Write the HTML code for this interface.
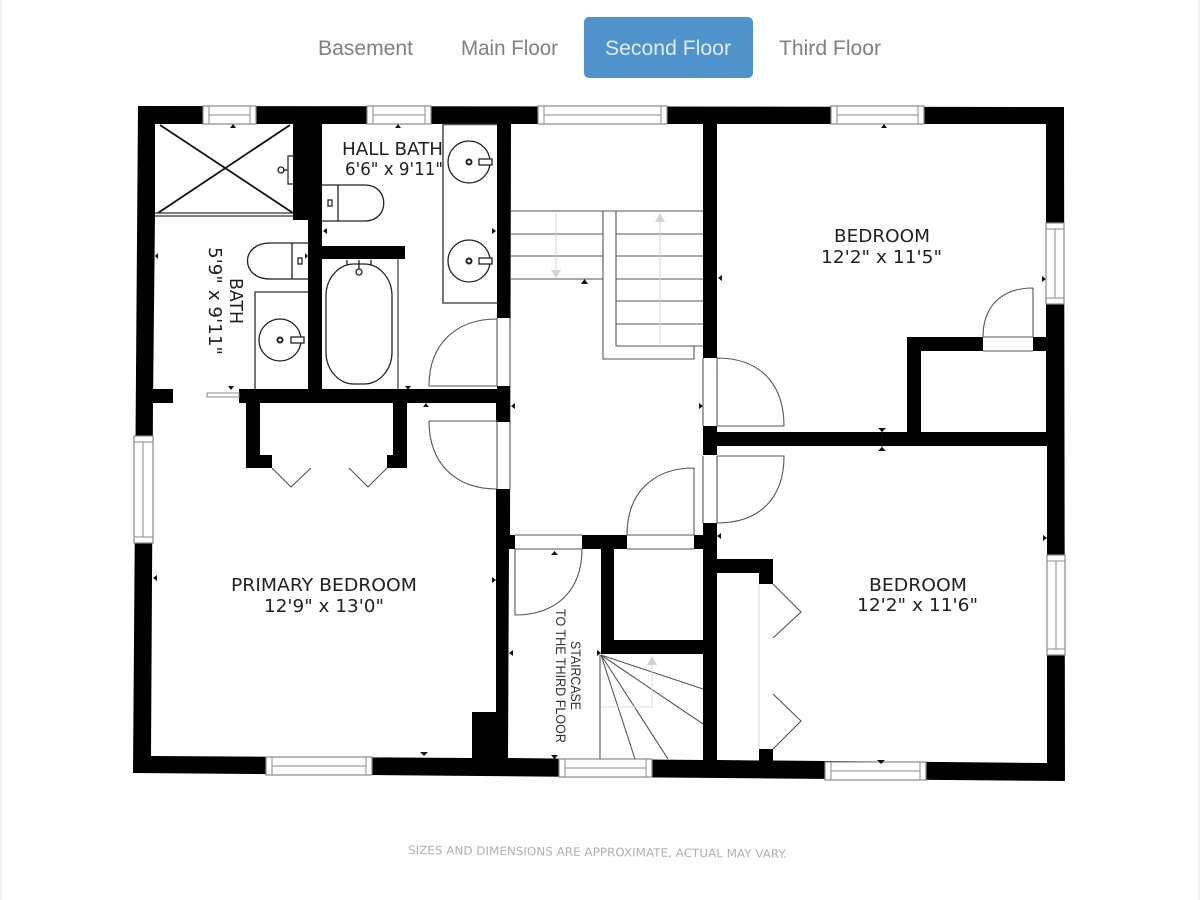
<!DOCTYPE html>
<html><head><meta charset="utf-8"><style>
html,body{margin:0;padding:0;background:#fff;width:1200px;height:900px;overflow:hidden}
svg{display:block;filter:blur(.35px)}
</style></head><body>
<svg width="1200" height="900" viewBox="0 0 1200 900" xmlns="http://www.w3.org/2000/svg">
<rect width="1200" height="900" fill="#fff"/>
<rect x="0" y="0" width="2" height="900" fill="#f4f4f4"/>
<rect x="1198" y="0" width="2" height="900" fill="#f4f4f4"/>
<!-- nav -->
<rect x="584" y="17" width="169" height="61" rx="5" fill="#4f92cc"/>
<g font-family="'Liberation Sans',sans-serif" font-size="21" fill="#808080">
<text x="318" y="55" textLength="95" lengthAdjust="spacingAndGlyphs">Basement</text>
<text x="461" y="55" textLength="97" lengthAdjust="spacingAndGlyphs">Main Floor</text>
<text x="605" y="55" textLength="126" lengthAdjust="spacingAndGlyphs" fill="#dcedfb">Second Floor</text>
<text x="779" y="55" textLength="102" lengthAdjust="spacingAndGlyphs">Third Floor</text>
</g>
<!-- walls -->
<polygon points="138,106 1064,107 1065,781 133,773" fill="#000"/>
<!-- room interiors -->
<g fill="#fff">
<polygon points="155,124 293,124 293,214 155,214"/>
<polygon points="155,214 293,214 293,220 308,220 308,389 173,389 173,403 153,403"/>
<polygon points="322,124 497,124 497,389 322,389 322,259 405,259 405,246 322,246"/>
<polygon points="511,124 703,124 703,535 510,535"/>
<polygon points="717,124 1046,124 1046,337 921,337 907,337 907,432 717,432"/>
<rect x="921" y="351" width="125" height="81"/>
<polygon points="717,446 1047,446 1047,763 773,760.5 773,749 759,749 759,760.5 717,760"/>
<polygon points="153,403 246,403 246,468 272,468 272,455 260,455 260,403 393,403 393,455 387,455 387,468 407,468 407,403 496,403 496,712 472,712 472,758 151,756"/>
<polygon points="509,549 601,549 601,759 508,758"/>
<polygon points="601,654 703,654 703,760 601,759"/>
<rect x="614" y="549" width="89" height="91"/>
<polygon points="717,573 759,573 759,760 717,760"/>
<polygon points="773,584 773,749 759,749 759,584"/>
</g>
<!-- walls restored over interiors -->
<g fill="#000">
<rect x="153" y="389" width="20" height="14"/>
<rect x="717" y="559" width="56" height="14"/>
<rect x="759" y="559" width="14" height="25"/>
</g>
<!-- door gaps -->
<g fill="#fff">
<rect x="497" y="318" width="13" height="68"/>
<rect x="496" y="422" width="14" height="67"/>
<rect x="703" y="358" width="14" height="68"/>
<rect x="703" y="455" width="14" height="68"/>
<rect x="515" y="535" width="67" height="14"/>
<rect x="627" y="535" width="67" height="14"/>
<rect x="983" y="337" width="50" height="14"/>
<rect x="173" y="389" width="66" height="14"/>
</g>
<!-- windows -->
<g fill="#fff" stroke="#8a8a8a" stroke-width="1.2">
<rect x="203" y="106" width="53" height="18"/>
<rect x="367" y="106" width="64" height="18"/>
<rect x="538" y="106" width="129" height="18"/>
<rect x="831" y="106" width="93" height="18"/>
<rect x="266" y="757" width="106" height="18"/>
<rect x="559" y="759" width="93" height="18"/>
<rect x="825" y="762" width="101" height="18"/>
<rect x="134" y="436" width="19" height="107"/>
<rect x="1046" y="223" width="18" height="81"/>
<rect x="1047" y="555" width="18" height="100"/>
</g>
<g fill="none" stroke="#8a8a8a" stroke-width="1">
<path d="M209 106V124M250 106V124M209 115H250"/>
<path d="M373 106V124M425 106V124M373 115H425"/>
<path d="M544 106V124M661 106V124M544 115H661"/>
<path d="M837 106V124M918 106V124M837 115H918"/>
<path d="M272 757V775M366 757V775M272 766H366"/>
<path d="M565 759V777M646 759V777M565 768H646"/>
<path d="M831 762V780M920 762V780M831 771H920"/>
<path d="M134 442H153M134 537H153M143 442V537"/>
<path d="M1046 229H1064M1046 298H1064M1055 229V298"/>
<path d="M1047 561H1065M1047 649H1065M1056 561V649"/>
</g>
<!-- sliding door -->
<rect x="207" y="393" width="32" height="4" fill="#fff" stroke="#888"/>
<!-- fixtures -->
<g fill="none" stroke="#222" stroke-width="1.3">
<path d="M160 125L293 213M290 125L158 213" stroke="#111" stroke-width="1.8"/>
<path d="M155 213H293M155 216H293" stroke="#333"/>
<path d="M293 156H288V184H293M288 170H283" stroke-width="1.2"/><circle cx="281" cy="170" r="3"/>
<path d="M322 185H365C390 185 390 221 365 221H322M338 185V221" stroke-width="1.3"/>
<rect x="328" y="200" width="4" height="6"/>
<path d="M308 243H270C240 243 240 279 270 279H308M292 243V279"/>
<rect x="298" y="258" width="4" height="6"/>
<path d="M308 292H255V389" stroke="#555" stroke-width="1.6"/>
<circle cx="280" cy="340" r="21"/><circle cx="280" cy="340" r="2.5" stroke-width="2"/>
<rect x="291" y="337" width="13" height="6" fill="#fff"/>
<path d="M497 124.500H443V303H497" stroke="#555" stroke-width="1.6"/>
<circle cx="469" cy="162" r="21" fill="#fff"/><circle cx="469" cy="162" r="2.5" stroke-width="2"/>
<rect x="479" y="159" width="13" height="6" fill="#fff"/>
<circle cx="469" cy="261" r="21" fill="#fff"/><circle cx="469" cy="261" r="2.5" stroke-width="2"/>
<rect x="479" y="258" width="13" height="6" fill="#fff"/>
<path d="M398 259V389" stroke="#555" stroke-width="1.4"/>
<rect x="326" y="264" width="66" height="120" rx="28" ry="32"/>
<path d="M347 260V265M359 260V270M371 260V265"/><circle cx="359" cy="272" r="3" fill="#fff"/>
</g>
<!-- door leaves -->
<g fill="none" stroke="#555" stroke-width="1.1">
<path d="M497 319C455 319 429 345 429 386H497M497 318V386M510 318V386"/>
<path d="M429 421H497V489C455 489 429 463 429 421M510 422V489"/>
<path d="M717 358C760 358 784 384 784 426H717V358M703 358V426"/>
<path d="M717 456H784C784 498 760 523 717 523V456M703 456V523"/>
<path d="M694 468C652 468 627 494 627 535H694V468M627 549H694"/>
<path d="M515 549V615C557 615 582 590 582 549H515M515 535H582"/>
<path d="M1033 288C1000 288 983 308 983 337H1033V288M983 351H1033"/>
<path d="M272 468L291 487L311 468M349 468L368 487L387 468"/>
<path d="M773 584L801 612L773 638M773 694L801 721L773 749"/>
<path d="M759 584V749" stroke="#ddd"/>
</g>
<!-- stairs -->
<g fill="none" stroke="#555" stroke-width="1.1">
<path d="M511 211H703M511 234H603M511 256H603M511 279H603"/>
<path d="M616 234H703M616 256H703M616 279H703M616 301H703M616 324H703"/>
<path d="M603 211V359H694V346M616 211V346H703"/>
<path d="M601 655L703 689M601 655L703 724M601 655L668 759M601 655L635 759M600 655V759"/>
</g>
<g fill="#d4d4d4" stroke="none">
<rect x="555.5" y="213" width="1" height="60"/><polygon points="551,270 561,270 556,278"/>
<rect x="659.5" y="220" width="1" height="126"/><polygon points="655,222 665,222 660,213"/>
</g>
<path d="M601 707H652V665" fill="none" stroke="#dcdcdc" stroke-width="1"/>
<polygon points="647,665 657,665 652,656" fill="#d4d4d4"/>
<!-- dimension ticks -->
<g fill="#111">
<polygon points="230,128 236,128 233,124"/><polygon points="395,128 401,128 398,124"/>
<polygon points="881,128 887,128 884,124"/>
<polygon points="581,284 588,284 584.500,279"/>
<polygon points="423,407 429,407 426,403"/><polygon points="228,386 234,386 231,390"/>
<polygon points="405,386 411,386 408,390"/>
<polygon points="323,231 327,228 327,234"/><polygon points="496,231 492,228 492,234"/>
<polygon points="718,278 722,275 722,281"/><polygon points="1046,279 1042,276 1042,282"/>
<polygon points="155,256 158,253 158,259"/><polygon points="308,256 305,253 305,259"/>
<polygon points="703,406 699,403 699,409"/><polygon points="511,406 515,403 515,409"/>
<polygon points="153,578 157,575 157,581"/><polygon points="496,580 492,577 492,583"/>
<polygon points="509,653 513,650 513,656"/><polygon points="601,653 597,650 597,656"/>
<polygon points="717,536 721,533 721,539"/><polygon points="1047,538 1043,535 1043,541"/>
<rect x="881.500" y="428" width="1" height="23"/><polygon points="878,428 886,428 882,432"/><polygon points="878,451 886,451 882,447"/>
<polygon points="420,752 428,752 424,756"/><polygon points="551,755 558,755 554.500,759"/>
<polygon points="877,760 885,760 881,764"/><polygon points="551,555 558,555 554.500,551"/>
</g>
<!-- labels -->
<g font-family="'DejaVu Sans',sans-serif" font-size="17.500" fill="#222">
<text x="342" y="155" textLength="101" lengthAdjust="spacingAndGlyphs">HALL BATH</text>
<text x="345" y="175" textLength="98" lengthAdjust="spacingAndGlyphs">6'6" x 9'11"</text>
<text x="231" y="591" textLength="186" lengthAdjust="spacingAndGlyphs">PRIMARY BEDROOM</text>
<text x="264" y="612" textLength="120" lengthAdjust="spacingAndGlyphs">12'9" x 13'0"</text>
<text x="834" y="242" textLength="96" lengthAdjust="spacingAndGlyphs">BEDROOM</text>
<text x="821" y="263" textLength="121" lengthAdjust="spacingAndGlyphs">12'2" x 11'5"</text>
<text x="869" y="591" textLength="98" lengthAdjust="spacingAndGlyphs">BEDROOM</text>
<text x="857" y="611" textLength="121" lengthAdjust="spacingAndGlyphs">12'2" x 11'6"</text>
<text transform="translate(230,278) rotate(90)" textLength="46" lengthAdjust="spacingAndGlyphs">BATH</text>
<text transform="translate(209,247) rotate(90)" textLength="108" lengthAdjust="spacingAndGlyphs">5'9" x 9'11"</text>
</g>
<g font-family="'Liberation Sans',sans-serif" font-size="13.500" fill="#333">
<text transform="translate(571,641) rotate(90)" textLength="69" lengthAdjust="spacingAndGlyphs">STAIRCASE</text>
<text transform="translate(556,609) rotate(90)" textLength="134" lengthAdjust="spacingAndGlyphs">TO THE THIRD FLOOR</text>
</g>
<text transform="rotate(0.6 408 855)" x="408" y="854" font-family="'DejaVu Sans',sans-serif" font-size="11.500" fill="#b0b0b0" textLength="379" lengthAdjust="spacingAndGlyphs">SIZES AND DIMENSIONS ARE APPROXIMATE, ACTUAL MAY VARY.</text>
</svg>
</body></html>
